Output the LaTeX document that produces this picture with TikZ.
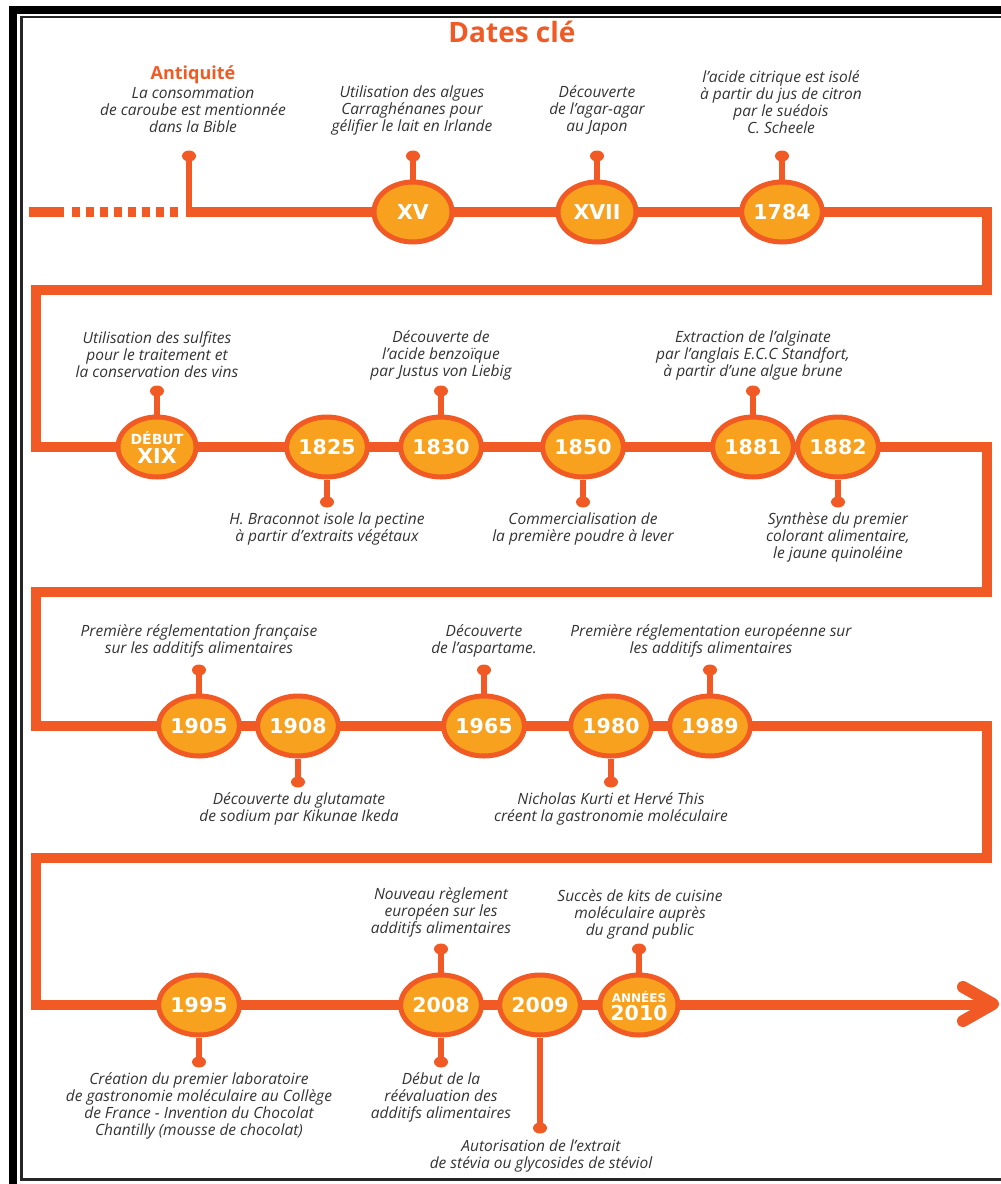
\documentclass[tikz,border=0pt]{standalone}
\usepackage{fontspec}
\setmainfont{Open Sans}
\newfontfamily\yrfont{DejaVu Sans}
\usetikzlibrary{shapes.geometric}
\definecolor{lineC}{HTML}{F15A24}
\definecolor{fillC}{HTML}{F8A11F}
\definecolor{txtC}{HTML}{333333}
\tikzset{
  tl/.style={line width=10pt, draw=lineC, line join=miter},
  stem/.style={line width=5.5pt, draw=lineC},
  dotn/.style={ellipse, fill=lineC, minimum width=14pt, minimum height=11pt, inner sep=0pt},
  yr/.style={ellipse, draw=lineC, line width=5pt, fill=fillC, minimum width=78pt, minimum height=60pt, inner sep=0pt, text=white, font=\yrfont\bfseries\fontsize{20.5}{20.5}\selectfont},
  desc/.style={align=center, inner sep=0pt, text=txtC, font=\itshape\fontsize{15.5}{17}\selectfont},
  frameA/.style={line width=8pt, draw=black},
  frameB/.style={line width=2.5pt, draw=black!85},
}
\begin{document}
\begin{tikzpicture}[x=1pt,y=-1pt]
\useasboundingbox (0,0) rectangle (1001,1184);
% frame
\draw[frameA] (13,1190) -- (13,10) -- (1010,10);
\draw[frameB] (1010,17) -- (21.5,17) -- (21.5,1179.5) -- (1010,1179.5);
% title
\node[text=lineC, font=\bfseries\fontsize{28}{28}\selectfont, inner sep=0pt] (title) at (512,32) {Dates clé};
% timeline
\draw[tl] (29,212) -- (64,212);
\draw[tl, dash pattern=on 8pt off 6pt] (72,212) -- (180,212);
\coordinate (antbase) at (189,212);
\draw[tl] (186,212) -- (987,212) -- (987,290) -- (36,290) -- (36,447) -- (987,447) -- (987,592) -- (36,592) -- (36,726) -- (987,726) -- (987,858) -- (36,858) -- (36,1005) -- (990,1005);
\coordinate (arA) at (963,987);
\coordinate (arB) at (993,1004);
\coordinate (arC) at (963,1021);
\draw[line width=12pt, draw=lineC, line cap=round, line join=round] (arA) -- (arB) -- (arC);
% ---------- row 1
\node[dotn] (dant) at (189,156) {};
\draw[stem] (dant.center) -- (antbase);
\node[text=lineC, font=\bfseries\fontsize{18}{18}\selectfont, inner sep=0pt] (antt) at (193,75) {Antiquité};
\node[desc] (tant) at (193,110) {La consommation\\de caroube est mentionnée\\dans la Bible};

\node[yr] (xv) at (413,212) {XV};
\node[yr] (xvii) at (597,212) {XVII};
\node[yr] (y1784) at (782,212) {1784};
\node[dotn] (dxv) at (413,156) {};
\node[dotn] (dxvii) at (597,156) {};
\node[dotn] (d1784) at (782,156) {};
\draw[stem] (dxv.center) -- (xv.north);
\draw[stem] (dxvii.center) -- (xvii.north);
\draw[stem] (d1784.center) -- (y1784.north);
\node[desc] (txv) at (412,110) {Utilisation des algues\\Carraghénanes pour\\gélifier le lait en Irlande};
\node[desc] (txvii) at (597,110) {Découverte\\de l’agar-agar\\au Japon};
\node[desc] (t1784) at (781,102) {l’acide citrique est isolé\\à partir du jus de citron\\par le suédois\\C. Scheele};
% ---------- row 2
\node[yr] (debut) at (157,447) {};
\node[text=white, font=\yrfont\bfseries\fontsize{14}{14}\selectfont, inner sep=0pt] (debutA) at (157,438) {DÉBUT};
\node[text=white, font=\yrfont\bfseries\fontsize{20.5}{20.5}\selectfont, inner sep=0pt] (debutB) at (157,456) {XIX};
\node[yr] (y1825) at (327,447) {1825};
\node[yr] (y1830) at (441,447) {1830};
\node[yr] (y1850) at (583,447) {1850};
\node[yr] (y1881) at (753,447) {1881};
\node[yr] (y1882) at (838,447) {1882};
\node[dotn] (ddebut) at (157,391) {};
\node[dotn] (d1830) at (441,391) {};
\node[dotn] (d1881) at (753,391) {};
\node[dotn] (d1825) at (327,502) {};
\node[dotn] (d1850) at (583,502) {};
\node[dotn] (d1882) at (838,502) {};
\draw[stem] (ddebut.center) -- (debut.north);
\draw[stem] (d1830.center) -- (y1830.north);
\draw[stem] (d1881.center) -- (y1881.north);
\draw[stem] (d1825.center) -- (y1825.south);
\draw[stem] (d1850.center) -- (y1850.south);
\draw[stem] (d1882.center) -- (y1882.south);
\node[desc] (tdebut) at (157,355) {Utilisation des sulfites\\pour le traitement et\\la conservation des vins};
\node[desc] (t1830) at (441,355) {Découverte de\\l’acide benzoïque\\par Justus von Liebig};
\node[desc] (t1881) at (753,355) {Extraction de l’alginate\\par l’anglais E.C.C Standfort,\\à partir d’une algue brune};
\node[desc] (t1825) at (327,528.5) {H. Braconnot isole la pectine\\à partir d’extraits végétaux};
\node[desc] (t1850) at (583,528.5) {Commercialisation de\\la première poudre à lever};
\node[desc] (t1882) at (838,537) {Synthèse du premier\\colorant alimentaire,\\le jaune quinoléine};
% ---------- row 3
\node[yr] (y1905) at (199,726) {1905};
\node[yr] (y1908) at (298,726) {1908};
\node[yr] (y1965) at (484,726) {1965};
\node[yr] (y1980) at (611,726) {1980};
\node[yr] (y1989) at (710,726) {1989};
\node[dotn] (d1905) at (199,670) {};
\node[dotn] (d1965) at (484,670) {};
\node[dotn] (d1989) at (710,670) {};
\node[dotn] (d1908) at (298,782) {};
\node[dotn] (d1980) at (611,782) {};
\draw[stem] (d1905.center) -- (y1905.north);
\draw[stem] (d1965.center) -- (y1965.north);
\draw[stem] (d1989.center) -- (y1989.north);
\draw[stem] (d1908.center) -- (y1908.south);
\draw[stem] (d1980.center) -- (y1980.south);
\node[desc] (t1905) at (199,640.5) {Première réglementation française\\sur les additifs alimentaires};
\node[desc] (t1965) at (484,640.5) {Découverte\\de l’aspartame.};
\node[desc] (t1989) at (711,640.5) {Première réglementation européenne sur\\les additifs alimentaires};
\node[desc] (t1908) at (299,808.5) {Découverte du glutamate\\de sodium par Kikunae Ikeda};
\node[desc] (t1980) at (611,808.5) {Nicholas Kurti et Hervé This\\créent la gastronomie moléculaire};
% ---------- row 4
\node[yr] (y1995) at (199,1005) {1995};
\node[yr] (y2008) at (441,1005) {2008};
\node[yr] (y2009) at (540,1005) {2009};
\node[yr] (y2010) at (639,1005) {};
\node[text=white, font=\yrfont\bfseries\fontsize{12}{12}\selectfont, inner sep=0pt] (y2010A) at (639,997) {ANNÉES};
\node[text=white, font=\yrfont\bfseries\fontsize{20.5}{20.5}\selectfont, inner sep=0pt] (y2010B) at (639,1013) {2010};
\node[dotn] (d2008u) at (441,949) {};
\node[dotn] (d2010) at (639,949) {};
\node[dotn] (d1995) at (199,1062) {};
\node[dotn] (d2008d) at (441,1062) {};
\node[dotn] (d2009) at (540,1128) {};
\draw[stem] (d2008u.center) -- (y2008.north);
\draw[stem] (d2010.center) -- (y2010.north);
\draw[stem] (d1995.center) -- (y1995.south);
\draw[stem] (d2008d.center) -- (y2008.south);
\draw[stem] (d2009.center) -- (y2009.south);
\node[desc] (t2008u) at (441,912) {Nouveau règlement\\européen sur les\\additifs alimentaires};
\node[desc] (t2010) at (640,914) {Succès de kits de cuisine\\moléculaire auprès\\du grand public};
\node[desc] (t1995) at (199,1105.5) {Création du premier laboratoire\\de gastronomie moléculaire au Collège\\de France - Invention du Chocolat\\Chantilly (mousse de chocolat)};
\node[desc] (t2008d) at (441,1097) {Début de la\\réévaluation des\\additifs alimentaires};
\node[desc] (t2009) at (541,1155.5) {Autorisation de l’extrait\\de stévia ou glycosides de stéviol};
\end{tikzpicture}
\end{document}
